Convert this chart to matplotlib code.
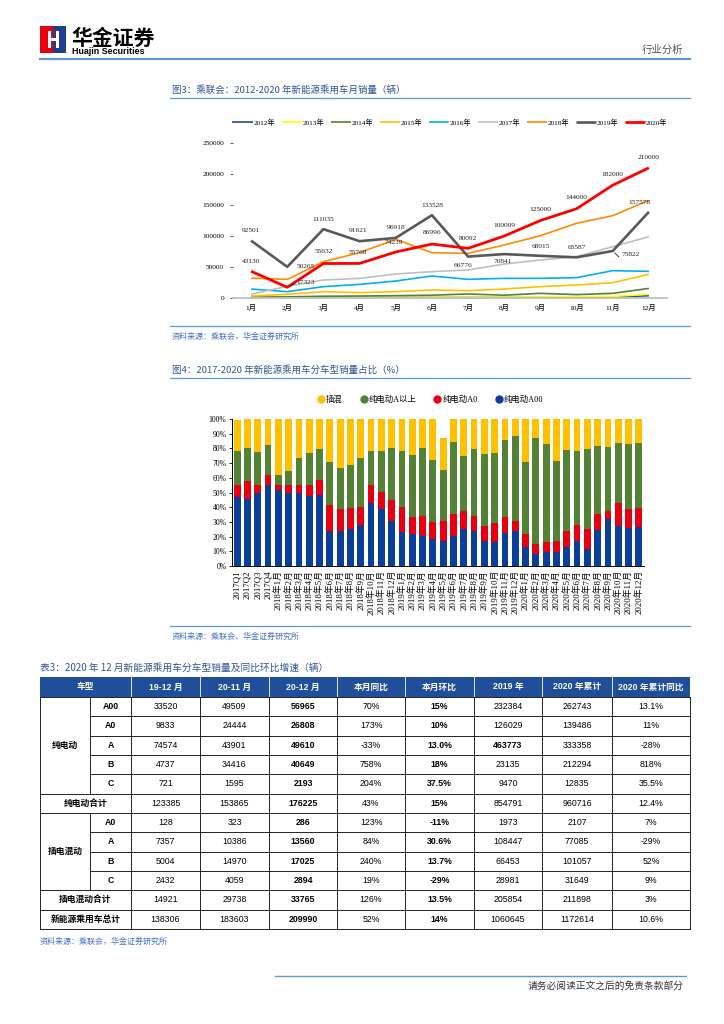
import matplotlib
matplotlib.use("Agg")
import matplotlib.pyplot as plt
from matplotlib.patches import Rectangle
from matplotlib.lines import Line2D
import numpy as np

CJK = ["Noto Sans CJK SC", "DejaVu Sans"]
SERIF = ["Liberation Serif", "Noto Sans CJK SC"]
SANS = ["Liberation Sans", "Noto Sans CJK SC"]
plt.rcParams["font.family"] = CJK

W, H = 724, 1024

# ---------------- 图3: monthly sales by year ----------------
months = ["1月", "2月", "3月", "4月", "5月", "6月", "7月", "8月", "9月", "10月", "11月", "12月"]
years = ["2012年", "2013年", "2014年", "2015年", "2016年", "2017年", "2018年", "2019年", "2020年"]
sales_2012 = [400, 500, 600, 700, 800, 900, 1000, 1000, 1100, 1200, 1500, 3700]
sales_2013 = [600, 700, 900, 1000, 1100, 1200, 1300, 1500, 1800, 2000, 2500, 6000]
sales_2014 = [1500, 1800, 2800, 3200, 3800, 4500, 6500, 4500, 7500, 5500, 7500, 15500]
sales_2015 = [3200, 5900, 10200, 8600, 10200, 12900, 11800, 14500, 18300, 21000, 24700, 38200]
sales_2016 = [14500, 10200, 18300, 22000, 27400, 35500, 30100, 31700, 31700, 32800, 44100, 43000]
sales_2017 = [6000, 19000, 29000, 31700, 38700, 42500, 45200, 54800, 61300, 66600, 82800, 98900]
sales_2018 = [32000, 30000, 58600, 73100, 94700, 73000, 72100, 85500, 100500, 120500, 132800, 157578]
sales_2019 = [92501, 50265, 111035, 91621, 96918, 133528, 66776, 70841, 68015, 65587, 75822, 139000]
sales_2020 = [43130, 17323, 55632, 55768, 74239, 86996, 80092, 100009, 125000, 144000, 182000, 210000]
all_sales = [sales_2012, sales_2013, sales_2014, sales_2015, sales_2016,
             sales_2017, sales_2018, sales_2019, sales_2020]
line_colors = ["#1f4e9a", "#ffff00", "#548235", "#ffc000", "#00b0f0",
               "#bfbfbf", "#ff8c00", "#595959", "#ff0000"]
line_widths = [1.2, 1.2, 1.2, 1.2, 1.2, 1.2, 1.2, 1.9, 2.0]

# data labels: (series index, month index, text)
point_labels = [
    (7, 0, "92501"), (8, 0, "43130"), (7, 1, "50265"), (8, 1, "17323"),
    (7, 2, "111035"), (8, 2, "55632"), (7, 3, "91621"), (8, 3, "55768"),
    (7, 4, "96918"), (8, 4, "74239"), (7, 5, "133528"), (8, 5, "86996"),
    (8, 6, "80092"), (7, 6, "66776"), (7, 7, "70841"), (8, 7, "100009"),
    (8, 8, "125000"), (7, 8, "68015"), (8, 9, "144000"), (7, 9, "65587"),
    (8, 10, "182000"), (7, 10, "75822"), (8, 11, "210000"), (6, 11, "157578"),
]
# label offsets in pixels (dx right, dy down)
label_offsets = [
    (0, -10), (0, -10), (18, 0), (18, -5),
    (0, -10), (0, -12), (-2, -11), (-2, -11),
    (0, -10), (-2, -9), (0, -10), (0, -12),
    (0, -10), (-5, 9), (-2, 7), (0, -10),
    (0, -11), (0, -9), (0, -11), (0, -10),
    (0, -11), (18, 4), (0, -10), (-9, 2),
]

# ---------------- 图4: share by segment ----------------
periods = ["2017Q1", "2017Q2", "2017Q3", "2017Q4"] + \
    ["%d年%d月" % (y, m) for y in (2018, 2019, 2020) for m in range(1, 13)]
share_a00 = [46.7, 45.6, 49.7, 54.9, 51.9, 49.7, 49.7, 47.4, 48.5, 23.5, 23.5, 25.5, 28.2, 42.8,
             38.5, 30.5, 22.8, 21.9, 20.5, 18.5, 17.3, 20.5, 25.1, 24.1, 17.3, 16.6, 22.3, 23.5,
             13.2, 8.0, 9.8, 9.8, 13.2, 17.3, 11.4, 24.6, 31.9, 26.9, 26.0, 26.4]
share_a0 = [8.2, 12.0, 5.7, 6.8, 3.5, 5.7, 5.2, 7.5, 9.8, 17.7, 15.0, 13.7, 12.1, 12.1,
            11.8, 14.6, 17.5, 11.4, 13.7, 11.3, 13.0, 14.8, 12.5, 9.6, 9.6, 12.8, 10.7, 6.8,
            8.7, 6.8, 6.8, 7.3, 10.3, 10.3, 13.9, 10.7, 5.2, 15.9, 12.7, 13.0]
share_a_up = [23.5, 23.0, 22.2, 20.8, 6.3, 9.5, 18.6, 21.8, 21.2, 29.6, 28.0, 29.4, 33.4, 23.5,
              28.1, 35.5, 38.2, 42.2, 46.4, 42.0, 35.1, 49.1, 36.9, 45.8, 49.6, 47.7, 52.4, 58.0,
              48.7, 72.5, 66.1, 54.2, 55.6, 50.9, 54.1, 46.0, 43.9, 40.6, 44.3, 44.2]
share_phev = [20.6, 19.4, 22.4, 17.5, 38.3, 35.1, 26.5, 23.3, 20.5, 29.2, 33.5, 31.4, 26.3, 21.6,
              21.6, 19.4, 21.5, 24.5, 19.4, 28.2, 21.6, 15.6, 25.5, 20.5, 23.5, 22.9, 14.6, 11.7,
              29.4, 12.7, 17.3, 28.7, 20.9, 21.5, 20.6, 18.7, 19.0, 16.6, 17.0, 16.4]

# ---------------- 表3 ----------------
table_header = ["车型", "19-12 月", "20-11 月", "20-12 月", "本月同比", "本月环比",
                "2019 年", "2020 年累计", "2020 年累计同比"]
table_rows = [
    ("纯电动", "A00", ["33520", "49509", "56965", "70%", "15%", "232384", "262743", "13.1%"]),
    ("纯电动", "A0", ["9833", "24444", "26808", "173%", "10%", "126029", "139486", "11%"]),
    ("纯电动", "A", ["74574", "43901", "49610", "-33%", "13.0%", "463773", "333358", "-28%"]),
    ("纯电动", "B", ["4737", "34416", "40649", "758%", "18%", "23135", "212294", "818%"]),
    ("纯电动", "C", ["721", "1595", "2193", "204%", "37.5%", "9470", "12835", "35.5%"]),
    ("纯电动合计", None, ["123385", "153865", "176225", "43%", "15%", "854791", "960716", "12.4%"]),
    ("插电混动", "A0", ["128", "323", "286", "123%", "-11%", "1973", "2107", "7%"]),
    ("插电混动", "A", ["7357", "10386", "13560", "84%", "30.6%", "108447", "77085", "-29%"]),
    ("插电混动", "B", ["5004", "14970", "17025", "240%", "13.7%", "66453", "101057", "52%"]),
    ("插电混动", "C", ["2432", "4059", "2894", "19%", "-29%", "28981", "31649", "9%"]),
    ("插电混动合计", None, ["14921", "29738", "33765", "126%", "13.5%", "205854", "211898", "3%"]),
    ("新能源乘用车总计", None, ["138306", "183603", "209990", "52%", "14%", "1060645", "1172614", "10.6%"]),
]
bold_cols = [2, 4]

BLUE_TXT = "#2f5597"
RULE = "#5b9bd5"
SRC = "#4472c4"

fig = plt.figure(figsize=(7.24, 10.24), dpi=100)

def fbox(x0, y0, x1, y1):
    return [x0 / W, 1 - y1 / H, (x1 - x0) / W, (y1 - y0) / H]

# ---- line chart
ax1 = fig.add_axes(fbox(233, 143, 667, 298))
xi = np.arange(len(months))
handles = []
for sales, col, lw, yr in zip(all_sales, line_colors, line_widths, years):
    h, = ax1.plot(xi, sales, color=col, lw=lw, label=yr, solid_capstyle="butt")
    handles.append(h)
for (si, mi, txt), (dx, dy) in zip(point_labels, label_offsets):
    ax1.annotate(txt, (mi, all_sales[si][mi]), xytext=(dx * 0.72, -dy * 0.72),
                 textcoords="offset points", ha="center", va="center",
                 fontsize=5.3, family=SERIF, color="#222222")
# small leader marks next to two labels
ax1.annotate("", (1, sales_2020[1]), xytext=(8 * 0.72, 4 * 0.72), textcoords="offset points",
             arrowprops=dict(arrowstyle="-", color="#222222", lw=0.6, shrinkA=0, shrinkB=2))
ax1.annotate("", (10, sales_2019[10]), xytext=(6 * 0.72, -6 * 0.72), textcoords="offset points",
             arrowprops=dict(arrowstyle="-", color="#222222", lw=0.6, shrinkA=0, shrinkB=2))
ax1.set_xlim(-0.5, 11.5)
ax1.set_ylim(0, 250000)
ax1.set_yticks(range(0, 250001, 50000))
ax1.set_yticklabels([str(v) for v in range(0, 250001, 50000)], family=SERIF, fontsize=5.3)
ax1.set_xticks(xi)
ax1.set_xticklabels(months, family=SERIF, fontsize=5.3)
for s in ("left", "top", "right"):
    ax1.spines[s].set_visible(False)
ax1.spines["bottom"].set_color("#bfbfbf")
ax1.spines["bottom"].set_linewidth(1.3)
ax1.tick_params(axis="x", length=0, pad=4)
ax1.tick_params(axis="y", length=2.5, width=0.6, color="#404040", pad=4)
ax1.patch.set_alpha(0)
fig.legend(handles, years, loc="center", bbox_to_anchor=(450 / W, 1 - 122 / H), ncol=9,
           frameon=False, prop=dict(family=SERIF, size=5.2), handlelength=2.8,
           handletextpad=0.1, columnspacing=0.9, borderpad=0)

# ---- stacked bar chart
ax2 = fig.add_axes(fbox(232, 419, 644, 566))
xb = np.arange(len(periods))
bw = 0.66
ax2.bar(xb, share_a00, bw, color="#0a3f99", lw=0)
bot = np.array(share_a00)
ax2.bar(xb, share_a0, bw, bottom=bot, color="#e60012", lw=0)
bot = bot + np.array(share_a0)
ax2.bar(xb, share_a_up, bw, bottom=bot, color="#548235", lw=0)
bot = bot + np.array(share_a_up)
ax2.bar(xb, share_phev, bw, bottom=bot, color="#ffc000", lw=0)
ax2.set_xlim(-0.5, len(periods) - 0.5)
ax2.set_ylim(0, 100)
ax2.set_yticks(range(0, 101, 10))
ax2.set_yticklabels(["%d%%" % v for v in range(0, 101, 10)], family=SERIF, fontsize=5.5)
ax2.set_xticks(xb)
ax2.set_xticklabels(periods, rotation=90, family=SERIF, fontsize=6.3)
for s in ("top", "right"):
    ax2.spines[s].set_visible(False)
for s in ("left", "bottom"):
    ax2.spines[s].set_color("#000000")
    ax2.spines[s].set_linewidth(0.7)
ax2.tick_params(axis="x", length=0, pad=3)
ax2.tick_params(axis="y", length=2, width=0.6, pad=2)
leg_h = [Line2D([], [], ls="none", marker="o", ms=5, color=c)
         for c in ("#ffc000", "#548235", "#e60012", "#0a3f99")]
fig.legend(leg_h, ["插混", "纯电动A以上", "纯电动A0", "纯电动A00"], loc="center",
           bbox_to_anchor=(430 / W, 1 - 400 / H), ncol=4, frameon=False,
           prop=dict(family=SERIF, size=6), handletextpad=0.1, columnspacing=2.0,
           borderpad=0, handlelength=1)

# ---- page furniture in pixel coordinates
pg = fig.add_axes([0, 0, 1, 1])
pg.set_xlim(0, W)
pg.set_ylim(H, 0)
pg.axis("off")

# logo
pg.add_patch(Rectangle((40, 26), 13, 27, color="#e60012", lw=0))
pg.add_patch(Rectangle((53, 26), 13, 27, color="#1e3f8f", lw=0))
pg.add_patch(Rectangle((48, 31), 3, 17, color="white", lw=0))
pg.add_patch(Rectangle((56, 31), 3, 17, color="white", lw=0))
pg.add_patch(Rectangle((51, 38), 5, 3, color="white", lw=0))
pg.text(71, 38, "华金证券", fontsize=15, fontweight="bold", family=CJK, va="center", ha="left")
pg.text(72, 52, "Huajin Securities", fontsize=6.4, fontweight="bold", family=["Liberation Sans"],
        va="center", ha="left")
pg.text(683, 50, "行业分析", fontsize=7.5, color="#555555", ha="right", va="center")
pg.plot([40, 690], [59, 59], color=RULE, lw=1.6)

# figure 3 title
pg.text(172, 90, "图3：乘联会：2012-2020 年新能源乘用车月销量（辆）", fontsize=6.8,
        color=BLUE_TXT, ha="left", va="center")
pg.plot([170, 690], [98, 98], color=RULE, lw=0.9)
pg.plot([170, 690], [326, 326], color=RULE, lw=0.9)
pg.text(172, 336, "资料来源：乘联会，华金证券研究所", fontsize=5.8, color=SRC, ha="left",
        va="center", style="italic")

# figure 4 title
pg.text(172, 370, "图4：2017-2020 年新能源乘用车分车型销量占比（%）", fontsize=6.8,
        color=BLUE_TXT, ha="left", va="center")
pg.plot([170, 690], [378, 378], color=RULE, lw=0.9)
pg.plot([170, 690], [626, 626], color=RULE, lw=0.9)
pg.text(172, 636, "资料来源：乘联会、华金证券研究所", fontsize=5.8, color=SRC, ha="left",
        va="center", style="italic")

# table
pg.text(40, 668, "表3：2020 年 12 月新能源乘用车分车型销量及同比环比增速（辆）", fontsize=7,
        color=BLUE_TXT, ha="left", va="center")
xs = [40, 90, 131, 200, 269, 337, 405, 474, 542, 612, 690]
top, hbot = 677, 697
rh = (929 - hbot) / len(table_rows)
pg.add_patch(Rectangle((40, top), 650, hbot - top, color="#1f4e9a", lw=0))
hx = [(40 + 131) / 2] + [(xs[i] + xs[i + 1]) / 2 for i in range(2, 10)]
for x, t in zip(hx, table_header):
    pg.text(x, (top + hbot) / 2, t, color="white", fontsize=6.3, fontweight="bold",
            family=SANS, ha="center", va="center")
for x in xs[2:10]:
    pg.plot([x, x], [top, hbot], color="white", lw=0.6)

lc = dict(color="black", lw=0.6)
groups = {}
for r, (cat, sub, vals) in enumerate(table_rows):
    y0 = hbot + r * rh
    yc = y0 + rh / 2
    if sub is None:
        pg.text((40 + 131) / 2, yc, cat, fontsize=6.3, fontweight="bold", family=CJK,
                ha="center", va="center")
        pg.plot([40, 690], [y0, y0], **lc)
    else:
        pg.text((90 + 131) / 2, yc, sub, fontsize=6.3, fontweight="bold", family=SANS,
                ha="center", va="center")
        first = cat not in groups
        groups.setdefault(cat, []).append(r)
        pg.plot([40 if first else 90, 690], [y0, y0], **lc)
    for c, v in enumerate(vals):
        bold = c in bold_cols or (r == 2 and c == 5)
        pg.text((xs[c + 2] + xs[c + 3]) / 2, yc, v, fontsize=6.3,
                fontweight="bold" if bold else "normal", family=SANS, ha="center", va="center")
for cat, rs in groups.items():
    yc = hbot + (rs[0] + rs[-1] + 1) / 2 * rh
    pg.text((40 + 90) / 2, yc, cat, fontsize=6.3, fontweight="bold", family=CJK,
            ha="center", va="center")
    pg.plot([90, 90], [hbot + rs[0] * rh, hbot + (rs[-1] + 1) * rh], **lc)
for x in xs[2:10]:
    pg.plot([x, x], [hbot, 929], **lc)
pg.plot([40, 40], [hbot, 929], **lc)
pg.plot([690, 690], [hbot, 929], **lc)
pg.plot([40, 690], [929, 929], **lc)

pg.text(40, 941, "资料来源：乘联会，华金证券研究所", fontsize=5.8, color=SRC, ha="left",
        va="center", style="italic")

# footer
pg.plot([275, 686], [976, 976], color=RULE, lw=1.0)
pg.text(684, 986, "请务必阅读正文之后的免责条款部分", fontsize=7, color="#333333",
        ha="right", va="center")

fig.savefig("out.png", dpi=100)
